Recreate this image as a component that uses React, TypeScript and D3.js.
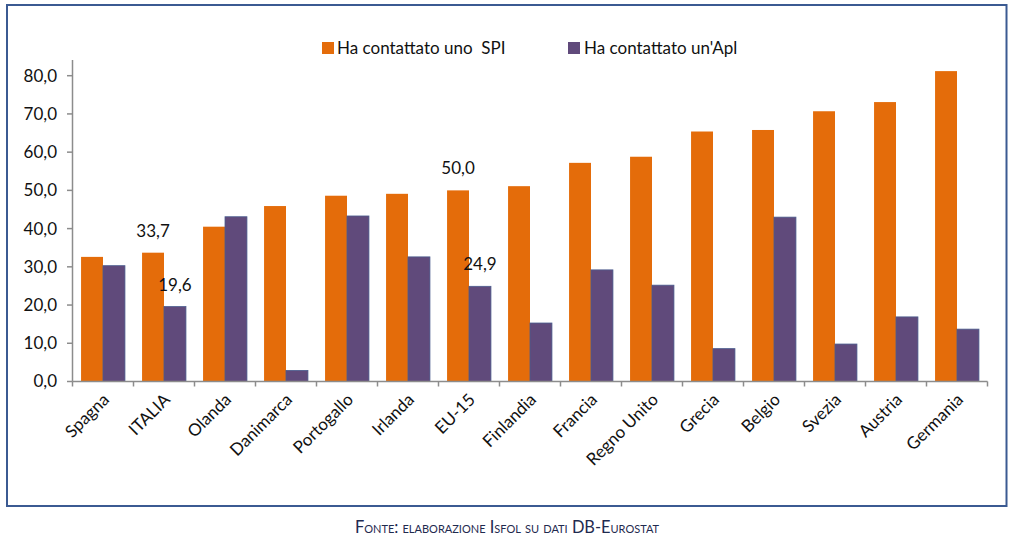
import React from "react";
import * as d3 from "d3";

const categories = ["Spagna", "ITALIA", "Olanda", "Danimarca", "Portogallo", "Irlanda", "EU-15", "Finlandia", "Francia", "Regno Unito", "Grecia", "Belgio", "Svezia", "Austria", "Germania"];
const spiValues = [32.6, 33.7, 40.5, 45.9, 48.6, 49.1, 50.0, 51.1, 57.2, 58.8, 65.4, 65.8, 70.7, 73.1, 81.2];
const aplValues = [30.3, 19.6, 43.1, 2.9, 43.3, 32.6, 24.9, 15.3, 29.2, 25.2, 8.6, 43.0, 9.8, 16.9, 13.7];
const seriesNames = ["Ha contattato uno  SPI", "Ha contattato un'Apl"];
const seriesKeys = ["spi", "apl"];
const yTicks = [0, 10, 20, 30, 40, 50, 60, 70, 80];
const labeledCategories = ["ITALIA", "EU-15"];
const sourceNote = "Fonte: elaborazione Isfol su dati DB-Eurostat";

const COLORS: Record<string, string> = { spi: "#E46C0A", apl: "#604A7B" };
const FONT = "Lato, 'Open Sans', sans-serif";

export default function App() {
  const x = d3.scaleBand<string>().domain(categories).range([72.5, 987.5]).paddingInner(0).paddingOuter(0);
  const xi = d3.scaleBand<string>().domain(seriesKeys).range([0, x.bandwidth()]).paddingInner(0).paddingOuter(0.39);
  const y = d3.scaleLinear().domain([0, 80]).range([381.5, 75.7]);
  const fmt = (v: number) => v.toFixed(1).replace(".", ",");

  const rows = categories.map((c, i) => ({ c, spi: spiValues[i], apl: aplValues[i] }));

  return (
    <svg width={1024} height={550} style={{ position: "absolute", left: 0, top: 0, background: "#fff" }} fontFamily={FONT}>
      <rect x={0} y={0} width={1024} height={550} fill="#fff" />
      <rect x={7} y={5} width={999.5} height={501} fill="none" stroke="#3B5A92" strokeWidth={2} />

      {/* legend */}
      <g>
        <rect x={322} y={42} width={12} height={12} fill={COLORS.spi} />
        <text x={337} y={54} fontSize={17} fill="#111" style={{ whiteSpace: "pre" }}>{seriesNames[0]}</text>
        <rect x={568} y={42} width={12} height={12} fill={COLORS.apl} />
        <text x={584} y={54} fontSize={17} fill="#111">{seriesNames[1]}</text>
      </g>

      {/* bars */}
      {rows.map((r) => (
        <g key={r.c} transform={`translate(${x(r.c)},0)`}>
          {seriesKeys.map((k) => {
            const v = (r as any)[k] as number;
            return (
              <rect key={k} x={xi(k)} y={y(v)} width={xi.bandwidth()} height={y(0) - y(v)} fill={COLORS[k]}
                stroke={k === "apl" ? "#4A5C8E" : "none"} strokeWidth={k === "apl" ? 0.8 : 0} />
            );
          })}
          {labeledCategories.includes(r.c) && seriesKeys.map((k) => {
            const v = (r as any)[k] as number;
            return (
              <text key={"l" + k} x={(xi(k) as number) + xi.bandwidth() / 2} y={y(v) - 16} textAnchor="middle" fontSize={17} fill="#111">{fmt(v)}</text>
            );
          })}
        </g>
      ))}

      {/* y axis */}
      <line x1={72.5} x2={72.5} y1={60} y2={y(0)} stroke="#8C8C8C" strokeWidth={1.5} />
      {yTicks.map((t) => (
        <g key={t}>
          <line x1={67} x2={72.5} y1={y(t)} y2={y(t)} stroke="#8C8C8C" strokeWidth={1.5} />
          <text x={57} y={y(t)} dy="0.35em" textAnchor="end" fontSize={17} fill="#111">{fmt(t)}</text>
        </g>
      ))}

      {/* x axis */}
      <line x1={72.5} x2={987.5} y1={y(0)} y2={y(0)} stroke="#8C8C8C" strokeWidth={1.5} />
      {[...categories.map((c) => x(c) as number), 987.5].map((px, i) => (
        <line key={i} x1={px} x2={px} y1={y(0)} y2={y(0) + 5} stroke="#8C8C8C" strokeWidth={1.5} />
      ))}
      {categories.map((c) => {
        const cx = (x(c) as number) + x.bandwidth() / 2;
        return (
          <text key={c} transform={`translate(${cx + 3},${y(0) + 15}) rotate(-45)`} textAnchor="end" dy="0.35em" fontSize={17} fill="#111">{c}</text>
        );
      })}

      {/* source */}
      <text x={507} y={533} textAnchor="middle" fontSize={16.4} fill="#1F2A4F" style={{ fontVariant: "small-caps" }}>{sourceNote}</text>
    </svg>
  );
}
